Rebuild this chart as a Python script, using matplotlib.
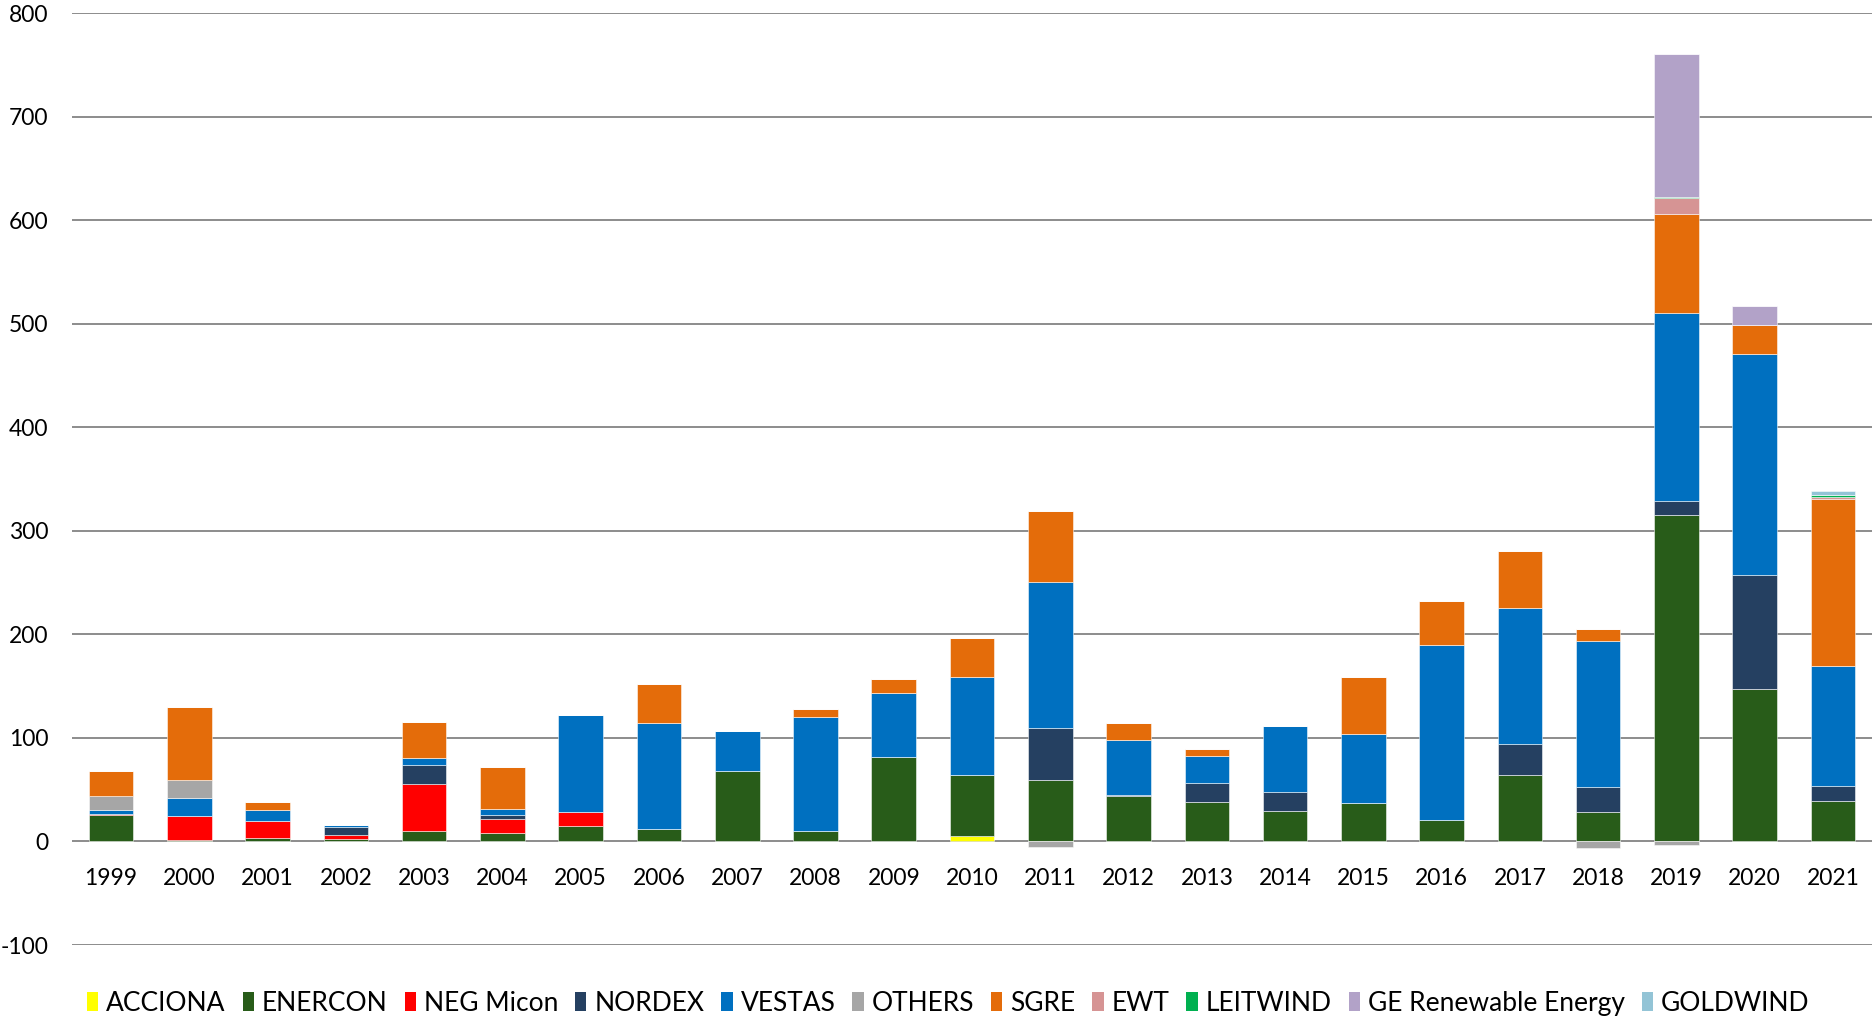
import matplotlib
matplotlib.use("Agg")
import matplotlib.pyplot as plt
import numpy as np

years = [str(y) for y in range(1999, 2022)]

ACCIONA  = [0, 0, 0, 0, 0, 0, 0, 0, 0, 0, 0, 5.5, 0, 0, 0, 0, 0, 0, 0, 0, 0, 0, 0]
ENERCON  = [25.7, 1.3, 3.5, 2.6, 10, 8.4, 14.5, 11.9, 67.8, 10, 81.4, 59.2, 59.5, 44.4, 38.3, 29.6, 37.3, 20.9, 64.6, 28.1, 315.3, 147.3, 39.2]
NEG      = [0.8, 23, 16, 3.9, 46, 13.8, 14.1, 0, 0, 0, 0, 0, 0, 0, 0, 0, 0, 0, 0, 0, 0, 0, 0]
NORDEX   = [0, 0, 0, 7.4, 17.4, 3.2, 0, 0, 0, 0, 0, 0, 49.8, 0.8, 18, 18.3, 0, 0, 29.6, 24.9, 13.8, 109.7, 14.3]
VESTAS   = [3.5, 18, 11, 2.3, 7.7, 6.4, 93.6, 102.9, 38.9, 110.6, 62.4, 94.2, 141.8, 52.4, 26.4, 63.7, 66.9, 169.1, 131.8, 140.4, 181.2, 213.6, 116]
OTHERS   = [14.1, 16.7, 0, 0, 0, 0, 0, 0, 0, 0, 0, 0, -5, 0, 0, 0, 0, 0, 0, -6.4, -3.7, 0, 0]
SGRE     = [24.4, 71, 8, 0, 34.7, 40.2, 0, 37, 0, 7, 13.5, 37.9, 67.8, 16.7, 6.8, 0, 54.3, 42.4, 54.7, 12.2, 95.4, 28.1, 161]
EWT      = [0, 0, 0, 0, 0, 0, 0, 0, 0, 0, 0, 0, 0, 0, 0, 0, 0, 0, 0, 0, 15.4, 0, 2.2]
LEITWIND = [0, 0, 0, 0, 0, 0, 0, 0, 0, 0, 0, 0, 0, 0, 0, 0, 0, 0, 0, 0, 1.6, 0, 1.9]
GE       = [0, 0, 0, 0, 0, 0, 0, 0, 0, 0, 0, 0, 0, 0, 0, 0, 0, 0, 0, 0, 138.3, 18.3, 0]
GOLDWIND = [0, 0, 0, 0, 0, 0, 0, 0, 0, 0, 0, 0, 0, 0, 0, 0, 0, 0, 0, 0, 0, 0, 3.9]

series = [
    ("ACCIONA", ACCIONA, "#FFFF00"),
    ("ENERCON", ENERCON, "#285C19"),
    ("NEG Micon", NEG, "#FF0000"),
    ("NORDEX", NORDEX, "#254061"),
    ("VESTAS", VESTAS, "#0070C0"),
    ("OTHERS", OTHERS, "#A6A6A6"),
    ("SGRE", SGRE, "#E46C0A"),
    ("EWT", EWT, "#D69494"),
    ("LEITWIND", LEITWIND, "#00B050"),
    ("GE Renewable Energy", GE, "#B2A2C8"),
    ("GOLDWIND", GOLDWIND, "#93C4D6"),
]

plt.rcParams['font.family'] = ['Lato', 'DejaVu Sans']
plt.rcParams['axes.unicode_minus'] = False

fig = plt.figure(figsize=(18.74, 10.19), dpi=100)
ax = fig.add_axes([0.0384, 0.0726, 0.9606, 0.9144])

x = np.arange(len(years))
pos_bottom = np.zeros(len(years))
neg_bottom = np.zeros(len(years))
width = 0.57
for name, vals, color in series:
    v = np.array(vals, dtype=float)
    bottoms = np.where(v >= 0, pos_bottom, neg_bottom)
    ax.bar(x, v, width, bottom=bottoms, color=color, label=name,
           edgecolor=(1, 1, 1, 0.6), linewidth=0.6, zorder=3)
    pos_bottom += np.where(v > 0, v, 0)
    neg_bottom += np.where(v < 0, v, 0)

ax.set_xlim(-0.5, len(years) - 0.5)
ax.set_ylim(-100, 800)
ax.set_yticks(np.arange(-100, 801, 100))
ax.yaxis.grid(True, color="#8C8C8C", linewidth=1.4, zorder=0)
ax.set_axisbelow(True)
for s in ["top", "right", "left"]:
    ax.spines[s].set_visible(False)
ax.spines["bottom"].set_position(("data", 0))
ax.spines["bottom"].set_visible(False)
ax.set_xticks(x)
ax.set_xticklabels(years)
ax.tick_params(axis="x", length=0, pad=19, labelsize=16.5)
ax.tick_params(axis="y", length=0, pad=17, labelsize=16.5)

leg = fig.legend(loc="center", bbox_to_anchor=(0.506, 0.0155), ncol=11, frameon=False,
                 fontsize=19, handlelength=0.42, handleheight=0.75,
                 handletextpad=0.3, columnspacing=0.65, borderaxespad=0)
for h in leg.legend_handles:
    h.set_edgecolor("none")

fig.savefig("out.png", dpi=100)
